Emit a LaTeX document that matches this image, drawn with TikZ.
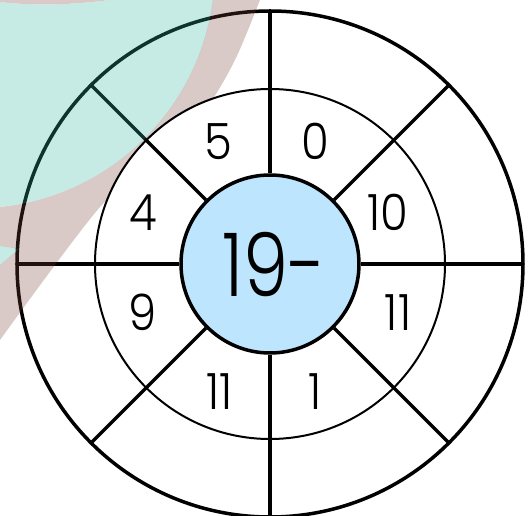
\documentclass[tikz,border=0pt]{standalone}
\usepackage{fontspec}
\IfFontExistsTF{Poppins Light}
  {\newfontfamily\ringfont[FakeStretch=0.9]{Poppins Light}
   \newfontfamily\hubfont[FakeStretch=0.82]{Poppins Light}}
  {\newfontfamily\ringfont[FakeStretch=0.9]{Poppins}
   \newfontfamily\hubfont[FakeStretch=0.82]{Poppins}}
\definecolor{hubblue}{RGB}{189,229,253}
\definecolor{wmteal}{RGB}{51,184,162}
\definecolor{wmrose}{RGB}{119,62,55}
\definecolor{wmbump}{RGB}{217,201,199}

\begin{document}
\begin{tikzpicture}[x=1pt,y=1pt,
  spoke/.style={line width=3.5pt},
  wm/.style={fill opacity=0.28},
  hub/.style={circle, draw, line width=3.5pt, fill=hubblue, inner sep=0pt, minimum size=178pt},
  num/.style={font=\ringfont\fontsize{50}{50}\selectfont, anchor=base, inner sep=0pt}]
  \useasboundingbox (-270,-252) rectangle (260,264);
  % outer ring
  \draw[spoke] (0,0) circle (253);
  \foreach \a in {0,45,...,315} \draw[spoke] (\a:175) -- (\a:253);
  % faint watermark in the corner
  \fill[wmteal, wm] (-270,262) .. controls (-235,258) and (-200,259) .. (-160,264)
    -- (-57,264) arc[start angle=-7.45, end angle=-84.2, radius=239] -- cycle;
  \fill[wmteal, wm] (-270,18) -- (-251,15) -- (-270,-1) -- cycle;
  \fill[wmrose, wm] plot[smooth] coordinates {(-10,264) (-35,204) (-65,154) (-115,99) (-170,57) (-270,-76)}
    -- (-270,-1) -- (-251,15) -- (-270,18) -- (-270,57)
    arc[start angle=-84.2, end angle=-7.45, radius=239] -- cycle;
  \fill[wmbump] (-270,264) -- (-270,262) .. controls (-235,258) and (-200,259) .. (-160,264) -- cycle;
  % inner ring
  \fill[white] (0,0) circle (175);
  \draw[line width=2pt] (0,0) circle (175);
  \node[hub] (hub) at (0,0) {};
  \node[num, font=\hubfont\fontsize{88}{88}\selectfont] (total) at (4,-33) {19-};
  \foreach \a in {0,45,...,315} \draw[spoke] (hub.\a) -- (\a:175);
  \foreach \x/\y/\v [count=\i] in {118/51/10, 45/122/0, -52/122/5, -127/51/4,
      -127/-49/9, -50/-128/11, 45/-128/1, 128/-49/11}
    \node[num, yshift=-17.5pt] (n\i) at (\x,\y) {\v};
\end{tikzpicture}
\end{document}
